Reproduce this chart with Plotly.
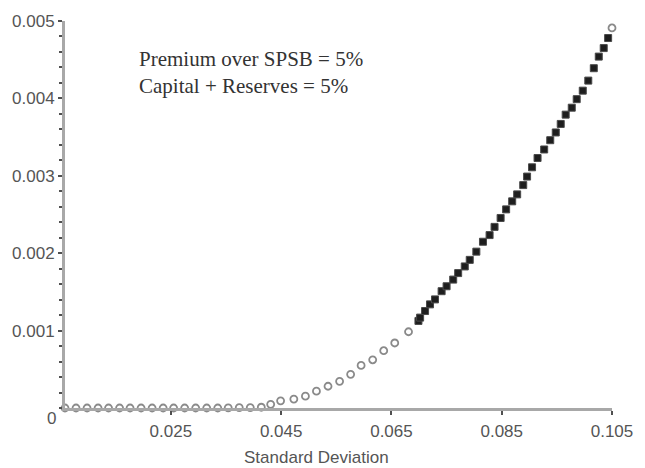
import plotly.graph_objects as go

# Hollow markers: flat region and the lower part of the curve
sd_hollow = [0.0058, 0.0078, 0.0098, 0.0118, 0.0137, 0.0157, 0.0176, 0.0196,
             0.0216, 0.0236, 0.0255, 0.0275, 0.0295, 0.0315, 0.0335, 0.0354,
             0.0374, 0.0394, 0.0414, 0.0431, 0.0449, 0.0473, 0.0494, 0.0514,
             0.0535, 0.0556, 0.0576, 0.0595, 0.0616, 0.0636, 0.0656, 0.0681,
             0.1050]
ret_hollow = [0.0, 0.0, 0.0, 0.0, 0.0, 0.0, 0.0, 0.0,
              0.0, 0.0, 0.0, 0.0, 0.0, 0.0, 0.0, 0.000002,
              0.000004, 0.000006, 0.00001, 0.000047, 0.000093, 0.000115, 0.000153, 0.000217,
              0.000281, 0.000345, 0.000435, 0.00055, 0.000623, 0.00074, 0.00084, 0.000985,
              0.00491]

# Filled markers: upper part of the curve
sd_filled = [0.0699, 0.0702, 0.0711, 0.0720, 0.0729, 0.0741, 0.0750, 0.0762,
             0.0771, 0.0783, 0.0792, 0.0804, 0.0816, 0.0828, 0.0837, 0.0848,
             0.0858, 0.0869, 0.0878, 0.0889, 0.0896, 0.0905, 0.0915, 0.0927,
             0.0938, 0.0948, 0.0957, 0.0966, 0.0977, 0.0986, 0.0997, 0.1007,
             0.1017, 0.1026, 0.1035, 0.1043]
ret_filled = [0.001125, 0.001168, 0.001253, 0.001339, 0.001403, 0.001509, 0.001573, 0.001659,
              0.001743, 0.001829, 0.001914, 0.00202, 0.002148, 0.002234, 0.00234, 0.002455,
              0.002566, 0.00267, 0.00276, 0.00288, 0.00299, 0.00311, 0.00323, 0.00334,
              0.00346, 0.00356, 0.00367, 0.00379, 0.00388, 0.00399, 0.0041, 0.00423,
              0.00439, 0.00454, 0.00465, 0.00478]

x_ticks = [0.025, 0.045, 0.065, 0.085, 0.105]
x_tick_text = ["0.025", "0.045", "0.065", "0.085", "0.105"]
y_ticks = [0.001, 0.002, 0.003, 0.004, 0.005]
y_tick_text = ["0.001", "0.002", "0.003", "0.004", "0.005"]

note_lines = ["Premium over SPSB = 5%", "Capital + Reserves = 5%"]
x_title = "Standard Deviation"

# Figure geometry (pixels)
W, H = 645, 468
L, R, T, B = 65, 30, 17, 60
plot_w = W - L - R
plot_h = H - T - B


def px_x(px):
    return (px - L) / plot_w


def px_y(py):
    return 1 - (py - T) / plot_h


sans = "Liberation Sans, Arial, sans-serif"
axis_font = dict(family=sans, size=17, color="#555555")

fig = go.Figure()

fig.add_trace(go.Scatter(
    x=sd_hollow, y=ret_hollow, mode="markers",
    marker=dict(symbol="circle-open", size=7, color="#8a8a8a",
                line=dict(width=1.8, color="#8a8a8a")),
    showlegend=False, cliponaxis=False,
))
fig.add_trace(go.Scatter(
    x=sd_filled, y=ret_filled, mode="markers",
    marker=dict(symbol="square", size=7, color="#1e1e1e",
                line=dict(width=1, color="#4a4a4a")),
    showlegend=False, cliponaxis=False,
))

# "0" label at the origin, set slightly below the axis
fig.add_annotation(
    x=0, y=0, xref="paper", yref="paper", xanchor="right", yanchor="middle",
    xshift=-7, yshift=-10, text="0", showarrow=False, font=axis_font,
)
# Parameter note
fig.add_annotation(
    x=px_x(137), y=px_y(41), xref="paper", yref="paper", showarrow=False,
    text="<br>".join(note_lines), align="left",
    xanchor="left", yanchor="top",
    font=dict(family="Liberation Serif, Times New Roman, serif", size=21, color="#333333"),
)
# Horizontal axis title
fig.add_annotation(
    x=px_x(318), y=px_y(458), xref="paper", yref="paper", showarrow=False,
    text=x_title, xanchor="center", yanchor="middle", font=axis_font,
)

fig.update_layout(
    width=W, height=H,
    margin=dict(l=L, r=R, t=T, b=B),
    paper_bgcolor="white", plot_bgcolor="white",
    xaxis=dict(
        range=[0.0058, 0.105], tickvals=x_ticks, ticktext=x_tick_text,
        showgrid=False, zeroline=False, showline=True, linecolor="#a8a8a8", linewidth=2.5,
        ticks="outside", ticklen=4, tickwidth=1.5, tickcolor="#505050",
        tickfont=axis_font, ticklabelstandoff=2,
    ),
    yaxis=dict(
        range=[0, 0.005], tickvals=y_ticks, ticktext=y_tick_text,
        showgrid=False, zeroline=False, showline=True, linecolor="#a8a8a8", linewidth=3,
        ticks="outside", ticklen=4, tickwidth=1.5, tickcolor="#505050",
        tickfont=axis_font,
        minor=dict(dtick=0.0002, ticks="outside", ticklen=3, tickcolor="#505050", tickwidth=1.5),
    ),
)

fig.write_html("out.html")
